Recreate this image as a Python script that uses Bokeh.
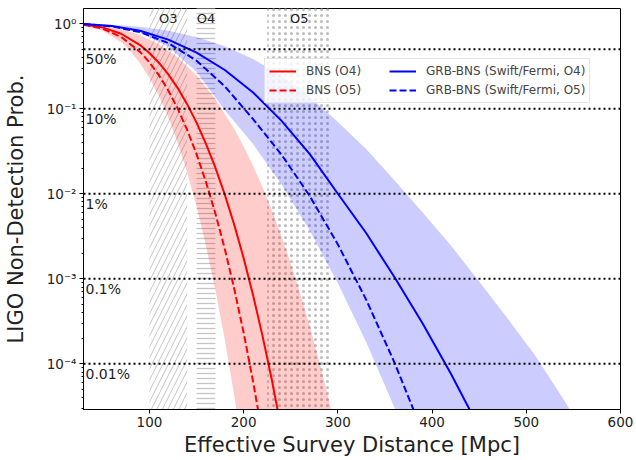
from bokeh.plotting import figure
from bokeh.models import (Legend, LegendItem, FixedTicker,
                          CustomJSTickFormatter, Span, Range1d)
from bokeh.embed import file_html
from bokeh.resources import INLINE
from bokeh.core.properties import value

# ---------------- data ----------------
bns_o4_dist = [30, 50, 70, 90, 100, 110, 120, 130, 140, 150, 160, 170, 180, 190, 200, 210, 220, 230, 240]
bns_o4_prob = [0.9788, 0.9056, 0.7617, 0.5607, 0.4519, 0.3477, 0.2537, 0.1748, 0.1132, 0.0686, 0.0387,
               0.02024, 0.00976, 0.004318, 0.001745, 0.000642, 0.000213, 0.0000639, 0.0000171]

bns_o5_dist = [30, 50, 70, 90, 100, 110, 120, 130, 140, 150, 160, 170, 180, 190, 200, 210, 220]
bns_o5_prob = [0.9721, 0.8773, 0.6984, 0.4664, 0.3512, 0.2484, 0.1640, 0.1004, 0.0566, 0.02927, 0.01375,
               0.005853, 0.002238, 0.000764, 0.0002313, 0.0000618, 0.0000145]

bns_band_lo_dist = [30, 50, 70, 80, 90, 100, 110, 120, 130, 140, 150, 160, 170, 180, 190, 200]
bns_band_lo_prob = [0.9612, 0.8324, 0.6045, 0.4718, 0.3431, 0.2305, 0.1418, 0.0792, 0.0398, 0.01783,
                    0.007066, 0.002453, 0.00074, 0.0001919, 0.0000425, 0.00000798]
bns_band_hi_dist = [30, 50, 70, 90, 110, 130, 150, 170, 190, 200, 210, 220, 230, 240, 250, 260, 270, 280, 290, 300]
bns_band_hi_prob = [0.9888, 0.9494, 0.8671, 0.7386, 0.5752, 0.4013, 0.2459, 0.1298, 0.05781, 0.036, 0.02129,
                    0.01197, 0.006368, 0.0032, 0.001512, 0.000672, 0.0002803, 0.000109, 0.0000396, 0.0000134]

grb_o4_dist = [30, 60, 90, 120, 150, 180, 210, 240, 270, 300, 330, 360, 390, 420, 450]
grb_o4_prob = [0.9913, 0.9410, 0.8273, 0.650, 0.4564, 0.2855, 0.1551, 0.0724, 0.0294, 0.01, 0.003451,
               0.001047, 0.0002985, 0.0000764, 0.0000176]

grb_o5_dist = [30, 60, 90, 120, 150, 180, 210, 240, 270, 300, 330, 360, 390]
grb_o5_prob = [0.9906, 0.9323, 0.7964, 0.5927, 0.3672, 0.1831, 0.0755, 0.02901, 0.00946, 0.002535,
               0.000569, 0.000104, 0.0000156]

grb_band_hi_dist = [30, 60, 90, 120, 150, 180, 210, 240, 270, 300, 330, 360, 390, 420, 450, 480, 510, 540, 570]
grb_band_hi_prob = [0.9966, 0.9751, 0.9215, 0.8285, 0.6975, 0.5434, 0.3852, 0.2447, 0.1386, 0.0698, 0.0336,
                    0.01438, 0.00601, 0.002461, 0.00093, 0.000344, 0.0001224, 0.0000376, 0.0000107]
grb_band_lo_dist = [30, 60, 90, 120, 150, 180, 210, 240, 270, 300, 330, 360, 390]
grb_band_lo_prob = [0.9935, 0.9384, 0.7853, 0.5369, 0.2728, 0.0961, 0.0384, 0.01292, 0.003714, 0.000886,
                    0.0001806, 0.0000307, 0.00000437]

run_names = ["O3", "O4", "O5"]
run_lo = [100, 150, 225]
run_hi = [140, 170, 293]

level_values = [0.5, 0.1, 0.01, 0.001, 0.0001]
level_labels = ["50%", "10%", "1%", "0.1%", "0.01%"]

# ---------------- figure ----------------
FONT = "DejaVu Sans"
p = figure(width=636, height=460, y_axis_type="log",
           x_range=Range1d(30, 600), y_range=Range1d(2.9e-5, 1.51),
           output_backend="svg", toolbar_location=None,
           min_border_left=83, min_border_right=16, min_border_top=8, min_border_bottom=51)
p.background_fill_color = "white"
p.border_fill_color = "white"
p.outline_line_color = "black"
p.outline_line_width = 1
p.outline_line_alpha = 1
p.grid.visible = False

# observing-run hatched regions
hatch_styles = [("/", 11, 1.0, "#c4c4c4"), ("-", 5, 1.3, "#c4c4c4"), (".", 6, 0.4, "#bcbcbc")]
for lo, hi, (pat, sc, wt, col) in zip(run_lo, run_hi, hatch_styles):
    p.quad(left=[lo], right=[hi], bottom=[1e-7], top=[10], fill_alpha=0, line_alpha=0,
           hatch_pattern=pat, hatch_scale=sc, hatch_weight=wt, hatch_color=col, hatch_alpha=1.0)

# bands
p.patch(bns_band_hi_dist + bns_band_lo_dist[::-1], bns_band_hi_prob + bns_band_lo_prob[::-1],
        fill_color="red", fill_alpha=0.2, line_alpha=0)
p.patch(grb_band_hi_dist + grb_band_lo_dist[::-1], grb_band_hi_prob + grb_band_lo_prob[::-1],
        fill_color="blue", fill_alpha=0.2, line_alpha=0)

# lines
r1 = p.line(bns_o4_dist, bns_o4_prob, line_color="red", line_width=2)
r2 = p.line(bns_o5_dist, bns_o5_prob, line_color="red", line_width=2, line_dash="7 3")
r3 = p.line(grb_o4_dist, grb_o4_prob, line_color="blue", line_width=2)
r4 = p.line(grb_o5_dist, grb_o5_prob, line_color="blue", line_width=2, line_dash="7 3")

# dotted probability levels
for v in level_values:
    p.add_layout(Span(location=v, dimension="width", line_color="black", line_width=2,
                      line_dash="2 3"))

p.text(x=[p.x_range.start] * len(level_values), y=level_values, text=level_labels,
       x_offset=2, y_offset=2, text_baseline="top", text_align="left",
       text_font=value(FONT), text_font_size="14px", text_color="#222222")

run_centers = [(a + b) / 2 for a, b in zip(run_lo, run_hi)]
p.text(x=run_centers, y=[1.14] * 3, text=run_names, text_align="center", text_baseline="middle",
       text_font=value(FONT), text_font_size="13px", text_color="#222222")

# legend
legend = Legend(items=[
    LegendItem(label="BNS (O4)", renderers=[r1]),
    LegendItem(label="BNS (O5)", renderers=[r2]),
    LegendItem(label="GRB-BNS (Swift/Fermi, O4)", renderers=[r3]),
    LegendItem(label="GRB-BNS (Swift/Fermi, O5)", renderers=[r4]),
], ncols=2, location=(181, 306))
legend.margin = 0
legend.padding = 4
legend.spacing = 3
legend.glyph_width = 27
legend.glyph_height = 16
legend.label_height = 16
legend.label_width = 80
legend.label_standoff = 10
legend.label_text_font = FONT
legend.label_text_font_size = "12px"
legend.border_line_color = "#cccccc"
legend.border_line_width = 1
legend.background_fill_alpha = 0.8
p.add_layout(legend)

# axes
xa = p.xaxis[0]
xa.ticker = FixedTicker(ticks=[100, 200, 300, 400, 500, 600])
xa.axis_label = "Effective Survey Distance [Mpc]"

ya = p.yaxis[0]
ya.ticker = FixedTicker(ticks=[1e-4, 1e-3, 1e-2, 1e-1, 1],
                        minor_ticks=[k * 10.0 ** e for e in range(-5, 1) for k in range(2, 10)])
ya.formatter = CustomJSTickFormatter(code="""
const e = Math.round(Math.log10(tick));
const sup = {'-':'\u207b','0':'\u2070','1':'\u00b9','2':'\u00b2','3':'\u00b3','4':'\u2074',
             '5':'\u2075','6':'\u2076','7':'\u2077','8':'\u2078','9':'\u2079'};
return '10' + String(e).split('').map(c => sup[c]).join('');
""")
ya.axis_label = "LIGO Non-Detection Prob."

for ax in (xa, ya):
    ax.axis_line_color = "black"
    ax.major_tick_line_color = "black"
    ax.major_tick_in = 0
    ax.major_tick_out = 4
    ax.minor_tick_in = 0
    ax.minor_tick_out = 2
    ax.major_label_text_font = FONT
    ax.major_label_text_font_size = "13.5px"
    ax.major_label_text_color = "#222222"
    ax.major_label_standoff = 3
    ax.axis_label_text_font = FONT
    ax.axis_label_text_font_size = "21px"
    ax.axis_label_text_font_style = "normal"
    ax.axis_label_text_color = "#222222"
xa.minor_tick_line_color = None
ya.minor_tick_line_color = "black"
xa.axis_label_standoff = 3
ya.axis_label_standoff = 16

open("out.html", "w").write(file_html(p, INLINE))
